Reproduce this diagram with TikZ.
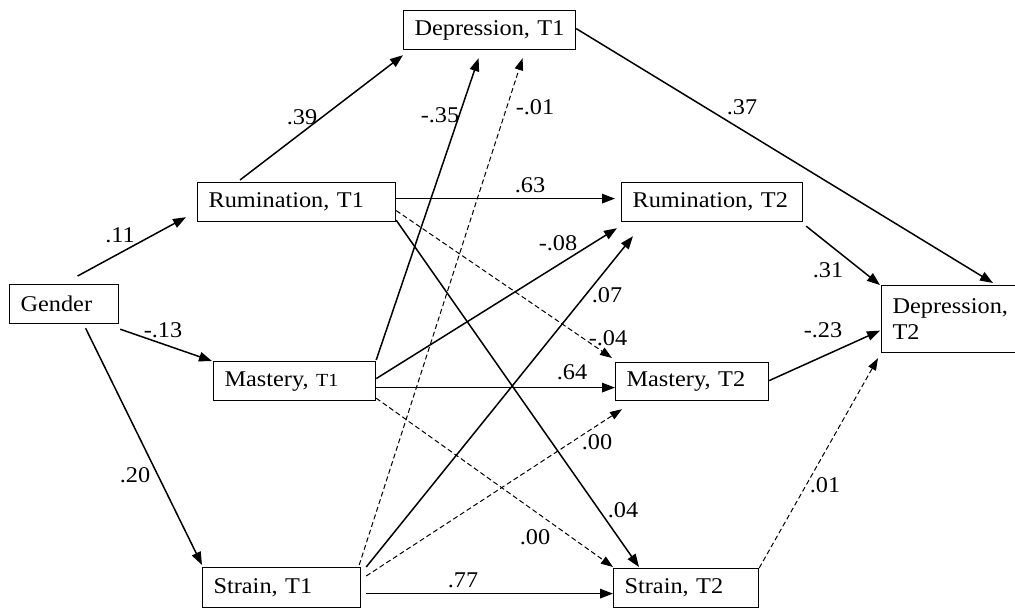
\documentclass[tikz,border=0pt]{standalone}
\usepackage{fontspec}
\setmainfont{Liberation Serif}[FakeStretch=1.08]
\usetikzlibrary{arrows.meta,calc}
\begin{document}
\begin{tikzpicture}[x=1pt,y=-1pt,
  box/.style={draw,line width=1.2pt,anchor=north west,inner xsep=11pt,inner ysep=0pt,align=left,font=\fontsize{22.5}{26}\selectfont},
  lab/.style={inner sep=0pt,font=\fontsize{22.5}{26}\selectfont},
  conn/.style={line width=1.5pt,-{Triangle[length=13pt,width=9.5pt]}},
  dconn/.style={line width=1pt,dash pattern=on 5pt off 3pt,-{Triangle[length=12pt,width=8.5pt]}}]
\useasboundingbox (0,0) rectangle (1015,608);
\fill[white] (0,0) rectangle (1015,608);
% boxes
\node[box,text width=150pt,minimum height=39pt] (dep1) at (403,10) {Depression, T1};
\node[box,text width=176pt,minimum height=39pt] (rum1) at (197,182) {Rumination, T1};
\node[box,text width=87pt,minimum height=39pt] (gen) at (9,284) {Gender};
\node[box,text width=140pt,minimum height=39pt] (mas1) at (213,361) {Mastery, {\fontsize{18.5}{22}\selectfont T1}};
\node[box,text width=136pt,minimum height=40pt] (str1) at (202,567) {Strain, T1};
\node[box,text width=159pt,minimum height=39pt] (rum2) at (621,182) {Rumination, T2};
\node[box,text width=131pt,minimum height=38pt] (mas2) at (615,362) {Mastery, T2};
\node[box,text width=123pt,minimum height=39pt] (str2) at (613,568) {Strain, T2};
\node[box,text width=118pt,minimum height=67pt] (dep2) at (881,285) {Depression,\\T2};
% connectors
\draw[conn] ($(gen.north)+(13.5,-8)$) -- ($(rum1.south west)+(-11,-5)$);
\draw[conn] ($(gen.south east)+(1,5)$) -- ($(mas1.north west)+(-1,0)$);
\draw[conn] ($(gen.south)+(21.5,4)$) -- ($(str1.north west)+(0,-2)$);
\draw[conn] ($(rum1.north west)+(43,-2)$) -- ($(dep1.south west)+(0,5)$);
\draw[conn] ($(mas1.north east)+(0,-1)$) -- ($(dep1.south)+(-11,8)$);
\draw[dconn] ($(str1.north east)+(-2,-2)$) -- ($(dep1.south)+(33,8)$);
\draw[conn] ($(dep1.east)+(0,-1.5)$) -- ($(dep2.north west)+(112,-2)$);
\draw[conn] ($(rum1.east)+(0,-3.5)$) -- ($(rum2.west)+(-6,-3.5)$);
\draw[dconn] ($(rum1.east)+(0,8.5)$) -- ($(mas2.north west)+(-3,-4)$);
\draw[conn] ($(rum1.south east)+(0,-2)$) -- ($(str2.north west)+(26,-1)$);
\draw[conn] ($(mas1.east)+(0,-2.5)$) -- ($(rum2.south west)+(-4,6)$);
\draw[conn] ($(mas1.east)+(0,6.5)$) -- ($(mas2.west)+(0,6)$);
\draw[dconn] ($(mas1.south east)+(0,-3)$) -- ($(str2.north west)+(0,-1)$);
\draw[conn] ($(str1.north east)+(5,0)$) -- ($(rum2.south west)+(12,14)$);
\draw[dconn] ($(str1.north east)+(5,9)$) -- ($(mas2.south west)+(7,8)$);
\draw[conn] ($(str1.east)+(5,6)$) -- ($(str2.west)+(0,5.5)$);
\draw[conn] ($(rum2.south east)+(3,4)$) -- ($(dep2.north west)+(-1,0)$);
\draw[conn] ($(mas2.east)+(0,-1)$) -- ($(dep2.west)+(-1,11.5)$);
\draw[dconn] ($(str2.north east)+(0,0)$) -- ($(dep2.south west)+(-3,5)$);
% labels
\node[lab] (l1) at (120,235) {.11};
\node[lab] (l2) at (163,330) {-.13};
\node[lab] (l3) at (135,475) {.20};
\node[lab] (l4) at (302,117) {.39};
\node[lab] (l5) at (440,115) {-.35};
\node[lab] (l6) at (535,107) {-.01};
\node[lab] (l7) at (742,107) {.37};
\node[lab] (l8) at (530,185) {.63};
\node[lab] (l9) at (558,243) {-.08};
\node[lab] (l10) at (607,295) {.07};
\node[lab] (l11) at (608,338) {-.04};
\node[lab] (l12) at (572,372) {.64};
\node[lab] (l13) at (597,442) {.00};
\node[lab] (l14) at (623,510) {.04};
\node[lab] (l15) at (535,537) {.00};
\node[lab] (l16) at (463,580) {.77};
\node[lab] (l17) at (828,270) {.31};
\node[lab] (l18) at (823,330) {-.23};
\node[lab] (l19) at (825,485) {.01};
\end{tikzpicture}
\end{document}
